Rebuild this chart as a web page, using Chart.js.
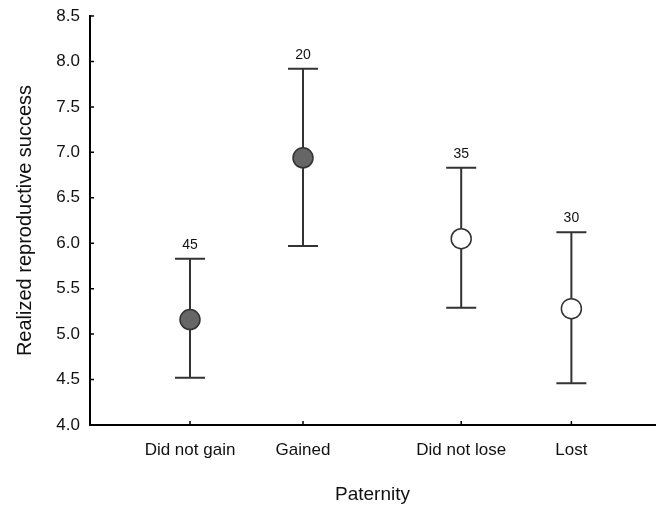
<!DOCTYPE html>
<html>
<head>
<meta charset="utf-8">
<script src="https://cdn.jsdelivr.net/npm/chart.js@4.4.0/dist/chart.umd.min.js"></script>
<style>
html,body{margin:0;padding:0;background:#fff;}
</style>
</head>
<body>
<canvas id="c" width="658" height="506"></canvas>
<script>
// ---- data ----
const categories = ["Did not gain", "Gained", "Did not lose", "Lost"];
const xPositions = [1, 2, 3.4, 4.375];
const groups = ["gain", "gain", "lose", "lose"];
const means = [5.16, 6.94, 6.05, 5.28];
const lowerCI = [4.52, 5.97, 5.29, 4.46];
const upperCI = [5.83, 7.92, 6.83, 6.12];
const nValues = [45, 20, 35, 30];
const yTicks = [4.0, 4.5, 5.0, 5.5, 6.0, 6.5, 7.0, 7.5, 8.0, 8.5];

const FONT = "'Liberation Sans', Arial, sans-serif";
const INK = "#333333";

const points = xPositions.map((x, i) => ({x: x, y: means[i]}));
const fills = groups.map(g => g === "gain" ? "#666666" : "#ffffff");

const errorBars = {
  id: "errorBars",
  beforeDatasetsDraw(chart) {
    const {ctx, scales: {x, y}} = chart;
    ctx.save();
    ctx.strokeStyle = INK;
    ctx.lineWidth = 2;
    xPositions.forEach((xv, i) => {
      const px = x.getPixelForValue(xv);
      const pl = y.getPixelForValue(lowerCI[i]);
      const pu = y.getPixelForValue(upperCI[i]);
      ctx.beginPath();
      ctx.moveTo(px, pl); ctx.lineTo(px, pu);
      ctx.moveTo(px - 15, pl); ctx.lineTo(px + 15, pl);
      ctx.moveTo(px - 15, pu); ctx.lineTo(px + 15, pu);
      ctx.stroke();
      ctx.fillStyle = "#111";
      ctx.font = "14px " + FONT;
      ctx.textAlign = "center";
      ctx.textBaseline = "middle";
      ctx.fillText(String(nValues[i]), px, pu - 14);
    });
    ctx.restore();
  },
  afterDraw(chart) {
    const {ctx, scales: {x, y}} = chart;
    ctx.save();
    ctx.strokeStyle = "#000";
    ctx.lineWidth = 1.5;
    ctx.beginPath();
    y.ticks.forEach(t => {
      const py = y.getPixelForValue(t.value);
      ctx.moveTo(x.left, py); ctx.lineTo(x.left + 4, py);
    });
    x.ticks.forEach(t => {
      const px = x.getPixelForValue(t.value);
      ctx.moveTo(px, y.bottom); ctx.lineTo(px, y.bottom - 4);
    });
    ctx.stroke();
    ctx.restore();
  }
};

new Chart(document.getElementById("c"), {
  type: "scatter",
  data: {
    datasets: [{
      data: points,
      pointRadius: 10,
      pointHoverRadius: 10,
      pointBackgroundColor: fills,
      pointBorderColor: INK,
      pointBorderWidth: 1.5,
      showLine: false,
      clip: false
    }]
  },
  options: {
    responsive: false,
    animation: false,
    events: [],
    layout: {autoPadding: false, padding: {top: 16, right: 3, bottom: 0, left: 0}},
    plugins: {legend: {display: false}, tooltip: {enabled: false}},
    scales: {
      x: {
        type: "linear",
        min: 0.115,
        max: 5.115,
        afterBuildTicks(scale) { scale.ticks = xPositions.map(v => ({value: v})); },
        afterFit(scale) { scale.height = 81; scale.paddingRight = 0; scale.paddingLeft = 0; },
        ticks: {
          callback: (v, i) => categories[i],
          color: "#111",
          font: {family: FONT, size: 17},
          padding: 15,
          maxRotation: 0,
          autoSkip: false
        },
        grid: {drawOnChartArea: false, drawTicks: false},
        border: {display: true, color: "#000", width: 2},
        title: {display: true, text: "Paternity", color: "#111", font: {family: FONT, size: 19}, padding: {top: 0, bottom: 0}}
      },
      y: {
        min: 4,
        max: 8.5,
        afterBuildTicks(scale) { scale.ticks = yTicks.map(v => ({value: v})); },
        afterFit(scale) { scale.width = 90; scale.paddingTop = 0; scale.paddingBottom = 0; },
        ticks: {
          callback: v => Number(v).toFixed(1),
          color: "#111",
          font: {family: FONT, size: 17},
          padding: 10
        },
        grid: {drawOnChartArea: false, drawTicks: false},
        border: {display: true, color: "#000", width: 2},
        title: {display: true, text: "Realized reproductive success", color: "#111", font: {family: FONT, size: 20}, padding: {top: 13, bottom: 0}}
      }
    }
  },
  plugins: [errorBars]
});
</script>
</body>
</html>
